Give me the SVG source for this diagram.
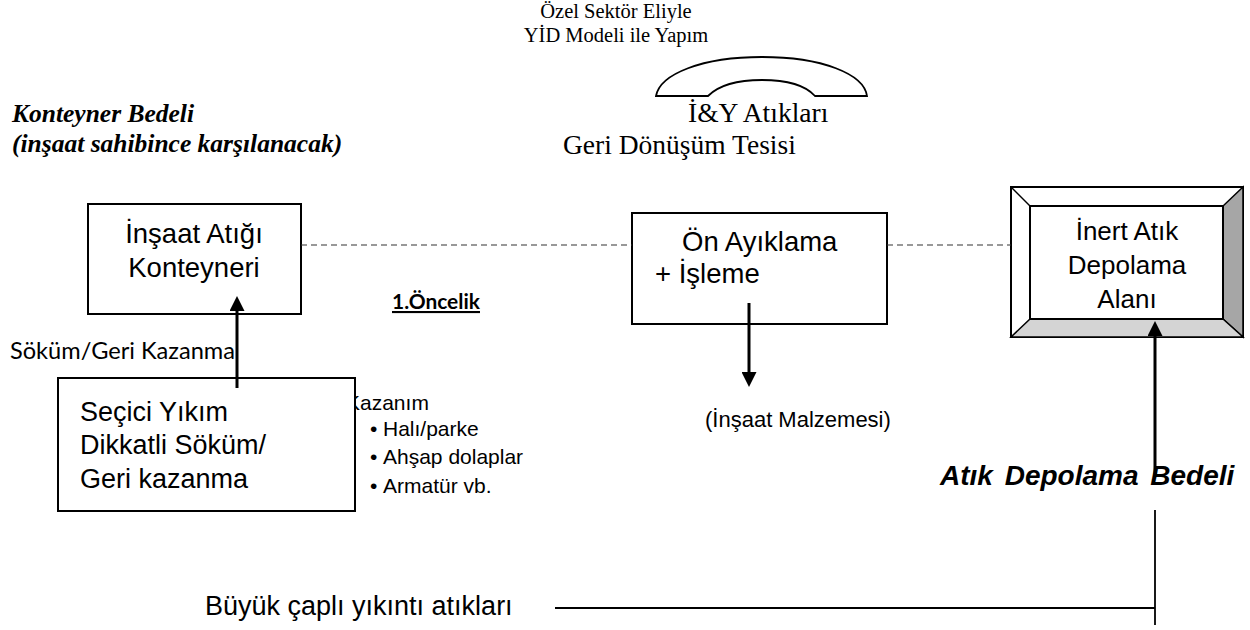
<svg xmlns="http://www.w3.org/2000/svg" width="1250" height="630" viewBox="0 0 1250 630">
<defs>
<style>
.box{fill:#fff;stroke:#000;stroke-width:2}
.ar{font-family:"Liberation Sans",Arial,sans-serif;fill:#000}
.tm{font-family:"Liberation Serif","Times New Roman",serif;fill:#000}
.cal{font-family:Lato,"Liberation Sans",sans-serif;fill:#000}
.dash{stroke:#333;stroke-width:1.2;stroke-dasharray:6 4;fill:none}
.conn{stroke:#000;stroke-width:3;fill:none}
.thin{stroke:#000;stroke-width:1.8;fill:none}
</style>
<marker id="ah" markerWidth="5" markerHeight="5" refX="2" refY="2.5" orient="auto" markerUnits="strokeWidth">
<path d="M0,0 L5,2.5 L0,5 Z" fill="#000"/>
</marker>
</defs>
<rect width="1250" height="630" fill="#fff"/>

<g id="header">
<text class="tm" x="616" y="18" font-size="20.5" text-anchor="middle">Özel Sektör Eliyle</text>
<text class="tm" x="616" y="42" font-size="20.5" text-anchor="middle">YİD Modeli ile Yapım</text>
<path d="M656,96 C660,74 702,57 762,57 C822,57 864,74 867,96 L815,96 C806,86 790,80 762,80 C734,80 718,86 708,96 Z" fill="#fff" stroke="#000" stroke-width="1.8"/>
<text class="tm" x="688" y="122" font-size="27.5">İ&amp;Y Atıkları</text>
<text class="tm" x="563" y="154" font-size="27.5">Geri Dönüşüm Tesisi</text>
</g>

<g id="konteyner-bedeli">
<text class="tm" x="12" y="122" font-size="25.5" font-weight="bold" font-style="italic">Konteyner Bedeli</text>
<text class="tm" x="12" y="152" font-size="25.5" font-weight="bold" font-style="italic">(inşaat sahibince karşılanacak)</text>
</g>

<g id="konteyner">
<rect class="box" x="88" y="204" width="213" height="110"/>
<text class="ar" x="194" y="243" font-size="27.5" text-anchor="middle">İnşaat Atığı</text>
<text class="ar" x="194" y="277" font-size="27.5" text-anchor="middle">Konteyneri</text>
</g>

<g id="oncelik">
<text class="cal" x="392" y="309" font-size="21" font-weight="bold" text-decoration="underline" textLength="88" lengthAdjust="spacingAndGlyphs">1.Öncelik</text>
</g>

<g id="kazanim">
<text class="ar" x="346" y="410" font-size="21">Kazanım</text>
<text class="ar" x="370" y="436" font-size="21">•</text>
<text class="ar" x="383" y="436" font-size="21">Halı/parke</text>
<text class="ar" x="370" y="464" font-size="21">•</text>
<text class="ar" x="383" y="464" font-size="21">Ahşap dolaplar</text>
<text class="ar" x="370" y="493" font-size="21">•</text>
<text class="ar" x="383" y="493" font-size="21">Armatür vb.</text>
</g>

<g id="secici">
<rect class="box" x="58" y="378" width="297" height="133"/>
<text class="ar" x="80" y="421" font-size="27">Seçici Yıkım</text>
<text class="ar" x="80" y="454" font-size="27">Dikkatli Söküm/</text>
<text class="ar" x="80" y="488" font-size="27">Geri kazanma</text>
</g>

<g id="sokum">
<text class="cal" x="10" y="359" font-size="23" textLength="225" lengthAdjust="spacingAndGlyphs">Söküm/Geri Kazanma</text>
</g>

<g id="on-ayiklama">
<rect class="box" x="632" y="213" width="255" height="111"/>
<text class="ar" x="682" y="251" font-size="27.5">Ön Ayıklama</text>
<text class="ar" x="655" y="283" font-size="27.5">+ İşleme</text>
</g>

<g id="malzeme">
<text class="ar" x="705" y="427" font-size="22">(İnşaat Malzemesi)</text>
</g>

<g id="inert">
<rect x="1011" y="187" width="232" height="150" fill="#fff" stroke="#000" stroke-width="2"/>
<polygon points="1243,187 1243,337 1223,319 1223,206" fill="#a6a6a6" stroke="#000" stroke-width="1.5"/>
<polygon points="1011,337 1243,337 1223,319 1030,319" fill="#d4d4d4" stroke="#000" stroke-width="1.5"/>
<line x1="1011" y1="187" x2="1030" y2="206" stroke="#000" stroke-width="1.5"/>
<rect x="1030" y="206" width="193" height="113" fill="#fff" stroke="#000" stroke-width="2"/>
<text class="ar" x="1127" y="240" font-size="26" text-anchor="middle">İnert Atık</text>
<text class="ar" x="1127" y="274" font-size="26" text-anchor="middle">Depolama</text>
<text class="ar" x="1127" y="308" font-size="26" text-anchor="middle">Alanı</text>
</g>

<g id="depolama-bedeli">
<text class="ar" x="940" y="485" font-size="28" font-weight="bold" font-style="italic" word-spacing="4">Atık Depolama Bedeli</text>
</g>

<g id="buyuk">
<text class="ar" x="205" y="615" font-size="27">Büyük çaplı yıkıntı atıkları</text>
</g>

<g id="connectors">
<line class="dash" x1="301" y1="245" x2="632" y2="245"/>
<line class="dash" x1="887" y1="245" x2="1011" y2="245"/>
<line class="conn" x1="237" y1="388" x2="237" y2="305" marker-end="url(#ah)"/>
<line class="conn" x1="749" y1="303" x2="749" y2="378" marker-end="url(#ah)"/>
<line class="conn" x1="1155" y1="474" x2="1155" y2="330" marker-end="url(#ah)"/>
<line class="thin" x1="1155" y1="510" x2="1155" y2="625"/>
<line class="thin" x1="555" y1="608" x2="1155" y2="608"/>
</g>
</svg>
